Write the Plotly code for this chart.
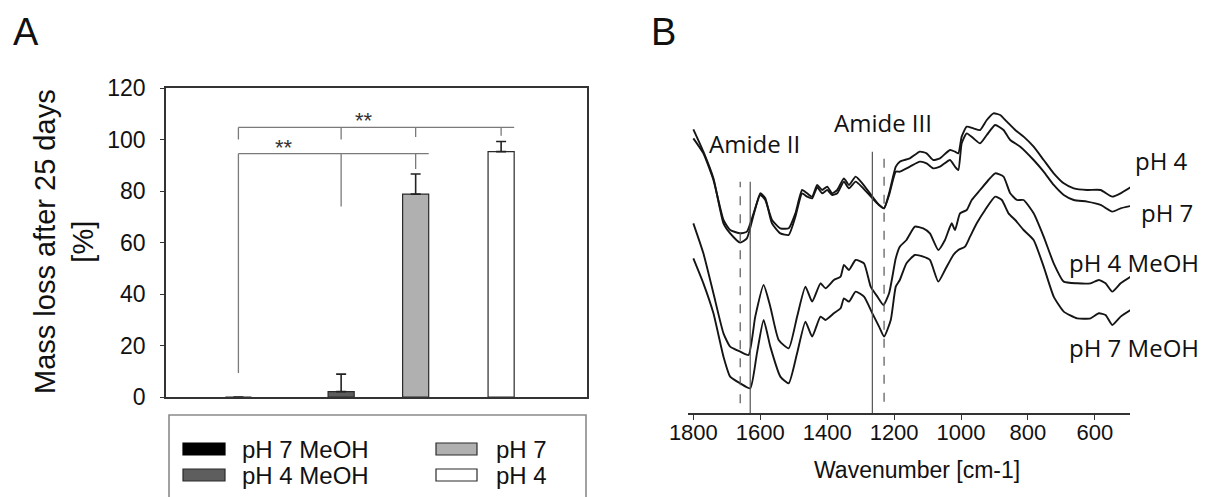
import plotly.graph_objects as go

W, H = 1210, 497
# the page body adds an 8px margin around the figure; compensate so that
# reference pixel positions land where they belong in the screenshot
OFF = 8


def px(X):
    return (X - OFF) / W


def py(Y):
    return 1 - (Y - OFF) / H


# ---------------- Panel A data ----------------
categories = ["pH 7 MeOH", "pH 4 MeOH", "pH 7", "pH 4"]
mass_loss = [0.0, 2.1, 78.8, 95.3]
mass_loss_err = [None, 6.8, 7.8, 3.9]
y_ticks = [0, 20, 40, 60, 80, 100, 120]

# significance brackets (value levels in %)
sig_low_level = 94.5
sig_low_drops = [9.3, 74.0, 88.5]
sig_high_level = 104.7
sig_high_drops = [100.0, 100.0, 101.0, 101.5]
sig_label = "**"

# ---------------- Panel B data (absorbance, a.u.) ----------------
wn_ph4 = [1800, 1770, 1740, 1710, 1690, 1660, 1640, 1620, 1600, 1585, 1565, 1540, 1515, 1495,
          1475, 1460, 1445, 1430, 1415, 1400, 1385, 1370, 1350, 1335, 1315, 1295, 1265, 1245,
          1230, 1215, 1195, 1183, 1153, 1123, 1103, 1083, 1063, 1033, 1018, 1008, 998, 983,
          963, 943, 923, 903, 883, 863, 838, 813, 783, 753, 723, 693, 663, 623, 583, 548, 523, 493]
abs_ph4 = [82.5, 78.0, 70.0, 58.0, 55.0, 54.0, 54.5, 60.0, 65.5, 64.0, 58.0, 55.5, 55.5, 60.0,
           67.0, 66.0, 65.0, 68.5, 67.0, 68.0, 66.0, 67.0, 70.5, 68.5, 71.0, 69.0, 65.0, 62.5,
           61.5, 66.0, 74.0, 75.5, 76.5, 78.5, 78.0, 76.0, 76.5, 79.0, 78.5, 78.0, 83.0, 86.0,
           85.5, 85.0, 88.0, 90.0, 89.5, 87.5, 85.0, 83.0, 80.0, 76.0, 72.0, 69.0, 67.5, 67.0,
           67.0, 65.0, 66.0, 67.8]

wn_ph7 = [1800, 1770, 1740, 1710, 1690, 1660, 1640, 1620, 1600, 1585, 1565, 1540, 1515, 1495,
          1475, 1460, 1445, 1430, 1415, 1400, 1385, 1370, 1350, 1335, 1315, 1295, 1265, 1245,
          1230, 1215, 1195, 1183, 1153, 1123, 1103, 1083, 1063, 1033, 1018, 1008, 998, 983,
          963, 943, 923, 898, 873, 853, 823, 783, 753, 723, 693, 663, 623, 583, 548, 523, 493]
abs_ph7 = [85.2, 78.5, 70.5, 57.0, 54.0, 51.2, 52.5, 59.5, 66.0, 64.5, 57.0, 54.0, 53.5, 59.0,
           66.0, 65.0, 64.5, 67.8, 66.0, 67.0, 65.5, 66.0, 69.5, 67.5, 69.5, 67.8, 64.5, 62.5,
           61.5, 65.5, 72.5, 72.5, 74.0, 75.5, 75.0, 73.5, 74.0, 76.0, 74.0, 73.0, 81.0, 84.0,
           82.5, 81.0, 83.5, 86.5, 85.0, 82.0, 80.0, 76.0, 72.5, 68.5, 65.5, 64.0, 63.5, 62.5,
           60.5, 61.5, 62.2]

wn_ph4_meoh = [1800, 1770, 1740, 1710, 1690, 1660, 1635, 1615, 1590, 1570, 1545, 1515, 1490,
               1465, 1445, 1420, 1405, 1380, 1360, 1350, 1335, 1315, 1290, 1270, 1250, 1232,
               1215, 1195, 1183, 1163, 1138, 1113, 1093, 1068, 1048, 1028, 1018, 1003, 983, 968,
               943, 918, 898, 873, 853, 833, 813, 783, 753, 723, 693, 653, 613, 588, 568, 548,
               523, 493]
abs_ph4_meoh = [57.0, 48.0, 36.0, 24.0, 20.0, 18.5, 17.5, 29.0, 38.5, 32.0, 22.0, 19.5, 29.0,
                38.0, 33.5, 39.0, 37.5, 40.0, 41.0, 44.5, 43.0, 46.0, 45.0, 38.0, 35.0, 32.5,
                36.0, 46.5, 50.0, 52.0, 56.0, 55.5, 54.0, 49.0, 52.0, 57.0, 55.0, 60.0, 61.0,
                64.0, 67.0, 70.0, 72.0, 71.0, 66.0, 64.0, 64.0, 60.0, 53.0, 45.0, 39.5, 39.0,
                39.0, 40.0, 39.0, 36.5, 39.0, 41.0]

wn_ph7_meoh = [1800, 1770, 1740, 1710, 1690, 1660, 1630, 1610, 1590, 1570, 1540, 1515, 1490,
               1465, 1445, 1420, 1405, 1380, 1360, 1350, 1335, 1315, 1290, 1265, 1245, 1230,
               1210, 1195, 1183, 1163, 1138, 1113, 1093, 1068, 1048, 1023, 1008, 988, 973, 953,
               928, 898, 878, 858, 838, 813, 783, 753, 723, 693, 653, 613, 588, 568, 548, 523, 493]
abs_ph7_meoh = [46.5, 39.0, 30.0, 17.0, 11.0, 9.0, 7.5, 18.0, 28.0, 20.0, 11.0, 9.0, 18.0,
                27.5, 23.0, 29.0, 28.0, 30.0, 31.5, 34.5, 33.5, 36.5, 35.0, 30.0, 26.0, 23.0,
                28.0, 38.0, 40.0, 45.0, 47.5, 47.0, 46.0, 39.5, 43.0, 47.5, 49.0, 50.0, 53.0,
                57.0, 61.0, 65.0, 64.0, 60.0, 58.0, 55.0, 52.0, 44.0, 35.0, 30.5, 28.5, 28.5,
                30.0, 29.5, 26.5, 29.0, 31.0]

spectra_names = ["pH 4", "pH 7", "pH 4 MeOH", "pH 7 MeOH"]
wn_ticks = [1800, 1600, 1400, 1200, 1000, 800, 600]

# band markers (wavenumber, top level, bottom level)
amide2_dashed = (1660, 69.5, 3.0)
amide2_solid = (1630, 69.5, 0.0)
amide3_solid = (1265, 78.5, 0.0)
amide3_dashed = (1230, 78.5, 3.5)

# ---------------- layout helpers ----------------
bar_pos = [1.72, 4.16, 5.93, 7.96]
bar_w = 0.62
bar_colors = ["#000000", "#5e5e5e", "#b0b0b0", "#ffffff"]

ARIAL = "Liberation Sans, Arial, sans-serif"
HUMAN = "Open Sans, Noto Sans, sans-serif"
INK = "#111111"

fig = go.Figure()

fig.add_trace(go.Bar(
    x=bar_pos, y=mass_loss, width=bar_w,
    marker=dict(color=bar_colors, line=dict(color="#2a2a2a", width=1.2)),
    error_y=dict(type="data", array=mass_loss_err, arrayminus=[0, 0, 0, 0], symmetric=False,
                 color="#222222", thickness=1.6, width=5),
    hovertext=categories, showlegend=False, xaxis="x", yaxis="y",
))

curve_sets = [(wn_ph4, abs_ph4), (wn_ph7, abs_ph7), (wn_ph4_meoh, abs_ph4_meoh), (wn_ph7_meoh, abs_ph7_meoh)]
for name, (wx, wy) in zip(spectra_names, curve_sets):
    fig.add_trace(go.Scatter(
        x=wx, y=wy, mode="lines", name=name, showlegend=False,
        line=dict(color="#151515", width=1.9, shape="spline", smoothing=0.5),
        xaxis="x2", yaxis="y2",
    ))

shapes = []
GRAYL = dict(color="#7a7a7a", width=1.3)
# lower bracket
shapes.append(dict(type="line", xref="x", yref="y", x0=bar_pos[0], x1=bar_pos[2] + bar_w / 2,
                   y0=sig_low_level, y1=sig_low_level, line=GRAYL))
for xp, yd in zip(bar_pos[:3], sig_low_drops):
    shapes.append(dict(type="line", xref="x", yref="y", x0=xp, x1=xp,
                       y0=sig_low_level, y1=yd, line=GRAYL))
# upper bracket
shapes.append(dict(type="line", xref="x", yref="y", x0=bar_pos[0], x1=bar_pos[3] + bar_w / 2,
                   y0=sig_high_level, y1=sig_high_level, line=GRAYL))
for xp, yd in zip(bar_pos, sig_high_drops):
    shapes.append(dict(type="line", xref="x", yref="y", x0=xp, x1=xp,
                       y0=sig_high_level, y1=yd, line=GRAYL))

# band marker lines in panel B
for (wv, top, bot), dash in [(amide2_dashed, "dash"), (amide2_solid, "solid"),
                             (amide3_solid, "solid"), (amide3_dashed, "dash")]:
    shapes.append(dict(type="line", xref="x2", yref="y2", x0=wv, x1=wv, y0=bot, y1=top,
                       line=dict(color="#555555", width=1.2, dash=dash)))

# legend box for panel A
shapes.append(dict(type="rect", xref="paper", yref="paper", x0=px(169), x1=px(586),
                   y0=py(530), y1=py(415), line=dict(color="#8a8a8a", width=1.6),
                   fillcolor="rgba(0,0,0,0)"))
leg_cols = [(183, 225, 240), (183, 225, 240), (436, 477, 494), (436, 477, 494)]
leg_rows = [(443, 455, 449), (469, 481, 475.5), (443, 455, 449), (469, 481, 475.5)]
annotations = []
for cat, col, (cx0, cx1, tx), (ry0, ry1, ty) in zip(categories, bar_colors, leg_cols, leg_rows):
    shapes.append(dict(type="rect", xref="paper", yref="paper", x0=px(cx0), x1=px(cx1),
                       y0=py(ry1), y1=py(ry0), fillcolor=col,
                       line=dict(color="#2a2a2a" if col != "#000000" else "#000000", width=1.2)))
    annotations.append(dict(text=cat, xref="paper", yref="paper", x=px(tx), y=py(ty),
                            xanchor="left", yanchor="middle", showarrow=False,
                            font=dict(family=ARIAL, size=24, color=INK)))

# significance stars
annotations.append(dict(text=sig_label, xref="x", yref="y", x=2.8, y=97.0, showarrow=False,
                        xanchor="center", yanchor="middle",
                        font=dict(family=ARIAL, size=22, color="#333333")))
annotations.append(dict(text=sig_label, xref="x", yref="y", x=4.7, y=107.2, showarrow=False,
                        xanchor="center", yanchor="middle",
                        font=dict(family=ARIAL, size=22, color="#333333")))

# y title panel A
annotations.append(dict(text="Mass loss after 25 days<br>[%]", xref="paper", yref="paper",
                        x=px(64), y=py(242), textangle=-90, showarrow=False,
                        xanchor="center", yanchor="middle",
                        font=dict(family=ARIAL, size=29, color=INK)))
# panel letters
annotations.append(dict(text="A", xref="paper", yref="paper", x=px(26), y=py(32), showarrow=False,
                        xanchor="center", yanchor="middle", font=dict(family=ARIAL, size=38, color=INK)))
annotations.append(dict(text="B", xref="paper", yref="paper", x=px(663), y=py(32), showarrow=False,
                        xanchor="center", yanchor="middle", font=dict(family=ARIAL, size=38, color=INK)))

# panel B labels
label_pos = [(1133, 160), (1139, 212), (1067, 262), (1067, 347)]
for name, (lx, ly) in zip(spectra_names, label_pos):
    annotations.append(dict(text=name, xref="paper", yref="paper", x=px(lx), y=py(ly),
                            xanchor="left", yanchor="middle", showarrow=False,
                            font=dict(family=HUMAN, size=24, color=INK)))
annotations.append(dict(text="Amide II", xref="paper", yref="paper", x=px(707), y=py(143),
                        xanchor="left", yanchor="middle", showarrow=False,
                        font=dict(family=HUMAN, size=24, color=INK)))
annotations.append(dict(text="Amide III", xref="paper", yref="paper", x=px(832), y=py(123),
                        xanchor="left", yanchor="middle", showarrow=False,
                        font=dict(family=HUMAN, size=24, color=INK)))
# x title panel B
annotations.append(dict(text="Wavenumber [cm-1]", xref="paper", yref="paper", x=px(917), y=py(470),
                        xanchor="center", yanchor="middle", showarrow=False,
                        font=dict(family=ARIAL, size=23, color=INK)))

fig.update_layout(
    template="none",
    width=W, height=H,
    autosize=False,
    margin=dict(l=0, r=0, t=0, b=0, pad=0, autoexpand=False),
    paper_bgcolor="white", plot_bgcolor="white",
    showlegend=False,
    xaxis=dict(domain=[px(166), px(587)], range=[0, 10], showline=True, mirror=True,
               linecolor="#333333", linewidth=1.5, ticks="", showticklabels=False,
               showgrid=False, zeroline=False, automargin=False),
    yaxis=dict(domain=[py(397), py(88)], range=[0, 120], tickvals=y_ticks, showline=True,
               mirror=True, linecolor="#333333", linewidth=1.5, ticks="outside", ticklen=4,
               tickcolor="#333333", ticklabelstandoff=10, showgrid=False, zeroline=False,
               automargin=False, tickfont=dict(family=ARIAL, size=23, color=INK)),
    xaxis2=dict(domain=[px(688), px(1130)], range=[1816, 495], anchor="y2", showline=True,
                linecolor="#333333", linewidth=1.5, ticks="outside", ticklen=5,
                tickcolor="#333333", tickvals=wn_ticks, showgrid=False, zeroline=False,
                automargin=False, ticklabelstandoff=-6,
                tickfont=dict(family=ARIAL, size=22, color=INK)),
    yaxis2=dict(domain=[py(413.3), py(100)], range=[0, 94], visible=False, anchor="x2",
                automargin=False),
    shapes=shapes,
    annotations=annotations,
)

fig.write_html("out.html")
